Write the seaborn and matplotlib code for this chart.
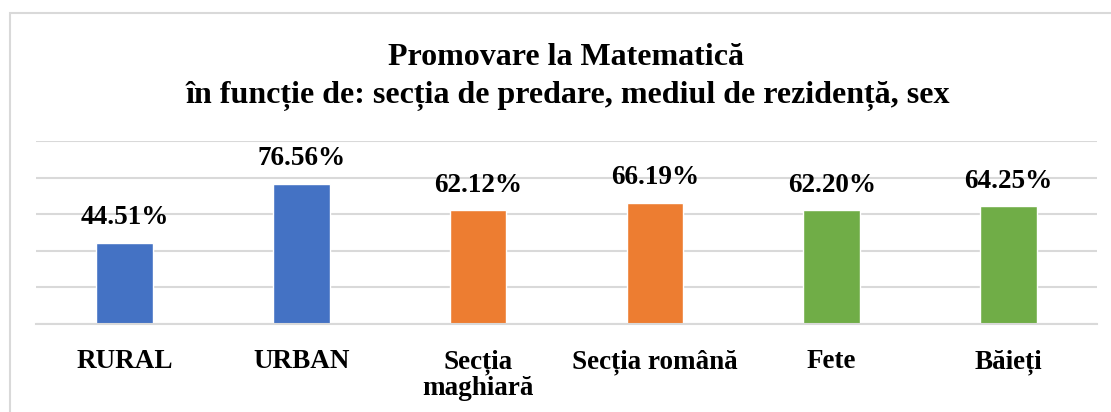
import matplotlib
matplotlib.use("Agg")
import matplotlib.pyplot as plt
import seaborn as sns
import pandas as pd
from matplotlib.patches import Rectangle

categories = ["RURAL", "URBAN", "Secția\nmaghiară", "Secția română", "Fete", "Băieți"]
values = [44.51, 76.56, 62.12, 66.19, 62.20, 64.25]
colors = ["#4472C4", "#4472C4", "#ED7D31", "#ED7D31", "#70AD47", "#70AD47"]
title_lines = ["Promovare la Matematică", "în funcție de: secția de predare, mediul de rezidență, sex"]

sns.set_theme(style="white")
plt.rcParams["font.family"] = ["Liberation Serif", "DejaVu Serif"]
plt.rcParams["font.weight"] = "bold"
plt.rcParams["text.color"] = "black"
plt.rcParams["xtick.color"] = "black"
plt.rcParams["xtick.labelcolor"] = "black"

W, H = 1111, 412
fig = plt.figure(figsize=(W / 100, H / 100), dpi=100)
fig.patch.set_facecolor("white")

# outer chart border (cropped at right and bottom)
fig.patches.append(Rectangle((10 / W, -0.05), 1.2, (H - 13) / H + 0.05,
                             transform=fig.transFigure, fill=False,
                             edgecolor="#d9d9d9", linewidth=1.5, zorder=0))

ax = fig.add_axes([36 / W, (H - 324) / H, (1097 - 36) / W, (324 - 141) / H])
df = pd.DataFrame({"cat": categories, "val": values})
sns.barplot(data=df, x="cat", y="val", hue="cat", palette=colors, width=0.32,
            legend=False, ax=ax, saturation=1)

ax.set_ylim(0, 100)
ax.set_yticks([0, 20, 40, 60, 80, 100])
ax.yaxis.grid(True, color="#d9d9d9", linewidth=1.5)
ax.set_axisbelow(True)
for s in ["top", "right", "left"]:
    ax.spines[s].set_visible(False)
ax.spines["bottom"].set_color("#d9d9d9")
ax.spines["bottom"].set_linewidth(1.5)
ax.tick_params(axis="y", left=False, labelleft=False)
ax.tick_params(axis="x", bottom=False, pad=12, labelcolor="black")
ax.set_xlabel("")
ax.set_ylabel("")
for lab in ax.get_xticklabels():
    lab.set_fontsize(19.5)
    lab.set_fontweight("bold")
    lab.set_color("black")
    lab.set_linespacing(1.05)
    lab.set_multialignment("center")

for cont, v in zip(ax.containers, values):
    ax.bar_label(cont, labels=[f"{v:.2f}%"], padding=9, fontsize=19.5,
                 fontweight="bold", color="black")

fig.text(566 / W, (H - 65) / H, title_lines[0], ha="center", va="baseline",
         fontsize=23, fontweight="bold", color="black")
fig.text(568 / W, (H - 103) / H, title_lines[1], ha="center", va="baseline",
         fontsize=23, fontweight="bold", color="black")

fig.savefig("out.png", dpi=100, facecolor="white")
